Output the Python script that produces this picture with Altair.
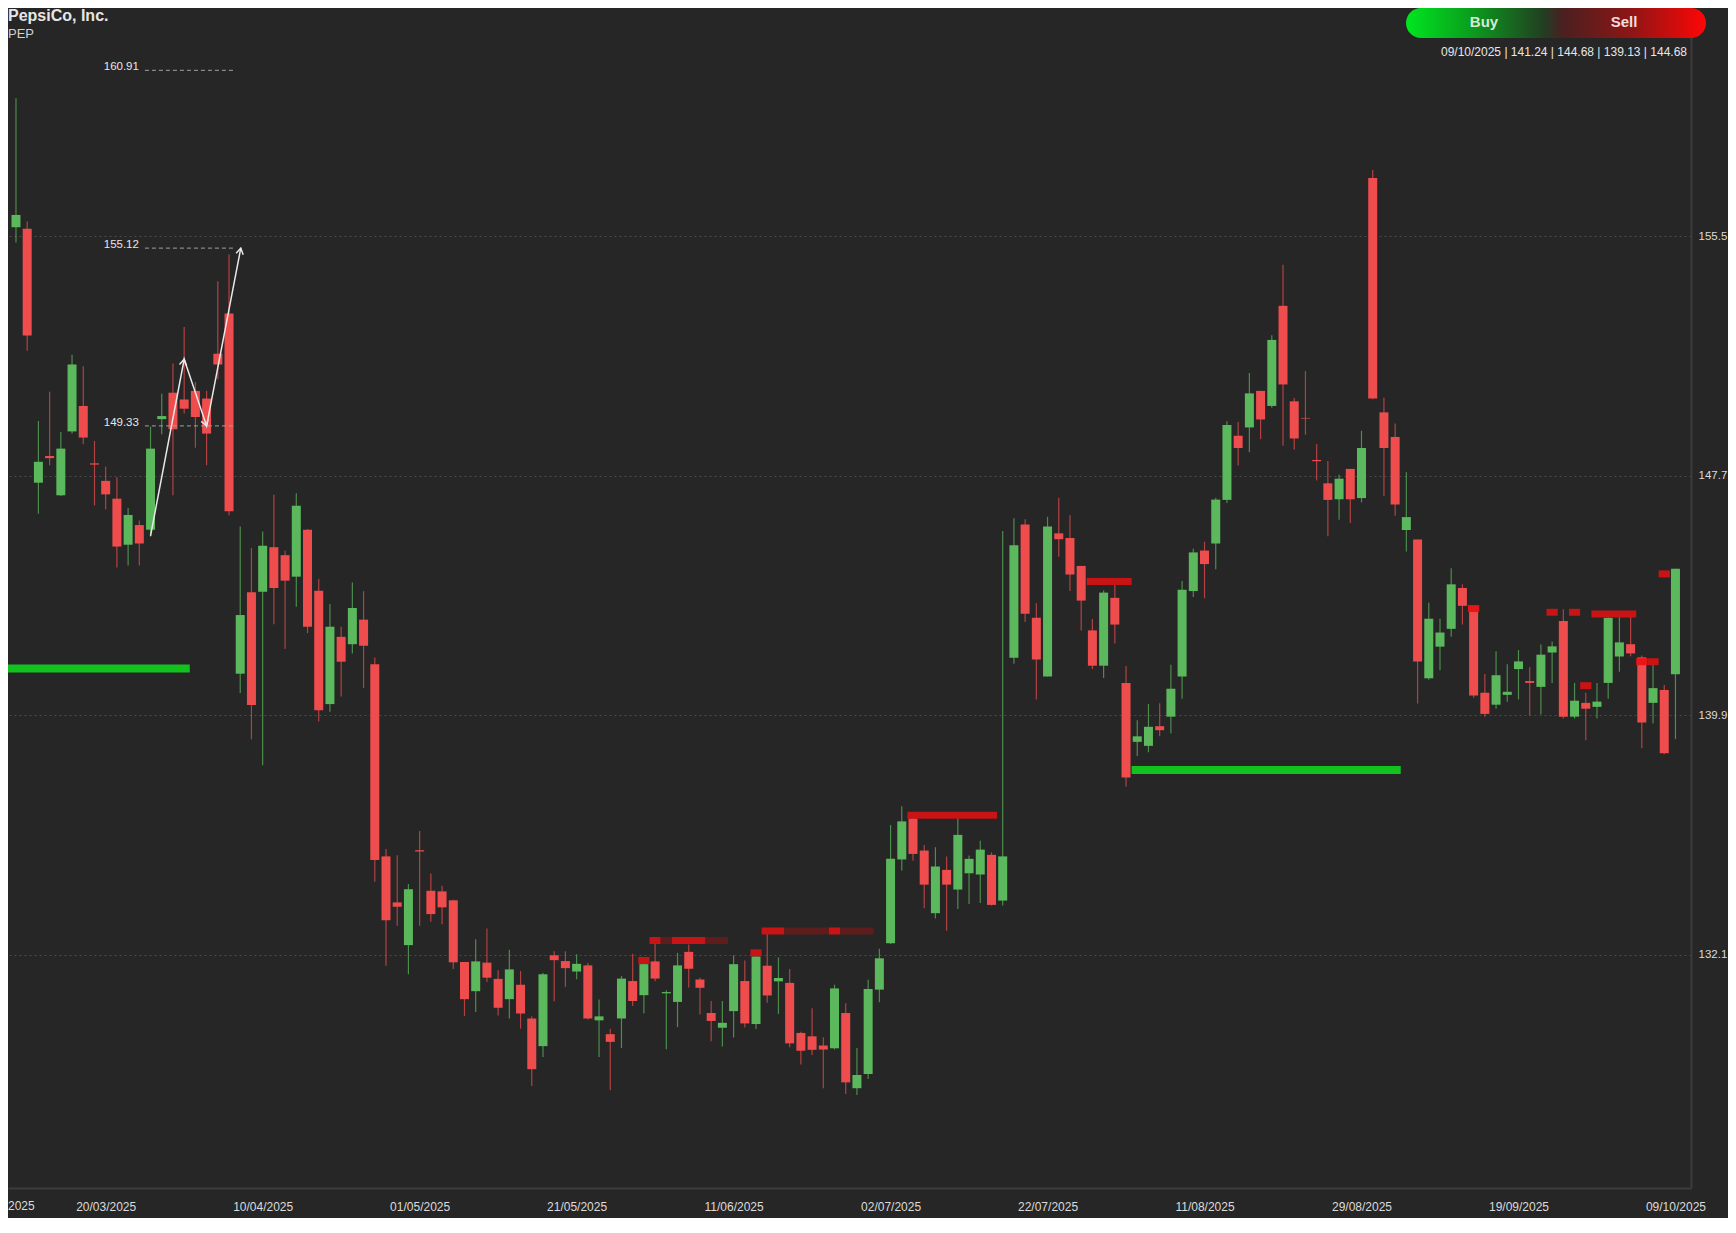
import json
import math
import pandas as pd
import altair as alt

# ---------------- data ----------------
opens = [155.80, 155.75, 147.48, 148.35, 147.07, 149.15, 149.98, 148.11, 147.54, 146.96,
         145.46, 146.10, 145.95, 149.55, 150.41, 150.19, 150.47, 150.22, 151.68, 152.99,
         141.26, 143.91, 143.93, 145.38, 145.12, 144.42, 145.95, 143.96, 140.27, 142.46,
         142.22, 143.02, 141.57, 135.31, 133.81, 132.42, 135.51, 134.19, 134.17, 133.88,
         131.87, 130.92, 131.85, 131.32, 130.66, 131.13, 130.03, 129.13, 132.09, 131.90,
         131.56, 131.76, 129.97, 129.52, 130.03, 131.25, 130.79, 131.89, 130.85, 130.57,
         132.20, 131.30, 130.21, 129.73, 130.27, 131.25, 129.85, 131.75, 131.24, 131.19,
         129.56, 129.45, 129.15, 129.06, 130.21, 127.76, 128.22, 130.97, 132.48, 135.21,
         136.55, 135.50, 133.46, 134.87, 134.23, 134.76, 134.72, 135.36, 133.87, 141.78,
         146.12, 143.08, 141.17, 145.83, 145.68, 144.77, 142.67, 141.52, 143.73, 140.96,
         139.04, 138.91, 139.55, 139.86, 141.17, 143.95, 145.27, 145.50, 146.92, 149.01,
         149.28, 150.47, 149.98, 153.24, 150.13, 149.59, 148.22, 147.46, 146.94, 147.93,
         146.98, 157.40, 149.77, 148.97, 145.94, 145.63, 141.11, 142.14, 142.72, 144.05,
         143.34, 140.64, 140.25, 140.57, 141.41, 141.02, 140.83, 141.95, 142.98, 139.86,
         140.31, 140.18, 140.96, 141.82, 142.22, 141.79, 140.31, 140.73, 141.24]
highs = [160.00, 155.99, 149.49, 150.44, 149.13, 151.65, 151.27, 148.84, 148.01, 147.66,
         146.66, 146.25, 149.31, 150.38, 151.36, 152.55, 150.76, 150.47, 154.04, 154.91,
         146.05, 145.35, 145.89, 147.09, 145.26, 147.14, 145.97, 144.34, 143.53, 142.79,
         144.23, 143.95, 141.79, 135.55, 135.35, 134.41, 136.14, 134.75, 134.35, 133.90,
         131.87, 132.61, 132.96, 131.60, 132.27, 131.58, 130.10, 131.51, 132.22, 132.22,
         132.12, 131.84, 130.65, 129.70, 131.42, 132.14, 131.98, 132.47, 130.95, 132.17,
         132.44, 131.36, 130.60, 130.60, 132.09, 131.92, 132.19, 132.84, 132.02, 131.64,
         129.60, 130.36, 129.42, 131.13, 130.53, 129.07, 131.29, 132.30, 136.33, 136.94,
         136.65, 135.68, 135.61, 135.31, 136.55, 135.34, 135.82, 135.44, 145.91, 146.32,
         146.29, 143.55, 146.37, 146.99, 146.43, 144.77, 143.04, 143.97, 144.34, 141.51,
         139.74, 140.27, 140.30, 141.55, 144.28, 145.33, 145.56, 146.99, 149.48, 149.46,
         151.05, 150.47, 152.28, 154.58, 150.24, 151.12, 148.74, 148.19, 147.74, 147.93,
         149.17, 157.66, 150.25, 149.41, 147.82, 145.63, 143.57, 143.05, 144.69, 144.17,
         143.40, 141.25, 141.99, 141.57, 142.03, 141.47, 142.21, 142.31, 143.36, 140.96,
         140.64, 140.96, 143.27, 143.11, 143.21, 141.85, 141.60, 140.89, 144.68]
lows = [155.30, 151.78, 146.47, 148.05, 147.05, 149.08, 148.73, 146.74, 146.61, 144.72,
        144.78, 144.78, 145.72, 149.06, 147.07, 149.73, 148.62, 148.05, 150.85, 146.42,
        140.63, 139.12, 138.28, 142.87, 142.06, 143.44, 142.58, 139.70, 140.02, 140.52,
        141.92, 140.79, 134.48, 131.75, 133.05, 131.47, 133.05, 133.18, 133.10, 131.64,
        130.11, 130.24, 131.22, 130.13, 130.03, 129.70, 127.83, 128.78, 130.59, 131.06,
        131.31, 130.00, 128.78, 127.69, 129.07, 130.44, 130.19, 131.24, 129.03, 129.75,
        131.04, 130.16, 129.29, 129.12, 129.41, 129.74, 129.69, 130.54, 130.18, 129.09,
        128.53, 128.84, 127.76, 129.02, 127.57, 127.54, 128.06, 130.56, 132.46, 134.85,
        135.17, 133.62, 133.29, 132.89, 133.60, 133.76, 133.79, 133.71, 133.71, 141.58,
        142.94, 140.42, 141.17, 145.07, 143.95, 142.67, 141.41, 141.12, 142.24, 137.59,
        138.58, 138.70, 139.22, 139.31, 140.44, 143.76, 143.72, 144.66, 146.82, 148.04,
        148.47, 148.90, 149.92, 148.68, 148.56, 149.04, 147.55, 145.74, 146.27, 146.17,
        146.84, 150.20, 147.04, 146.40, 145.24, 140.29, 141.06, 141.37, 142.46, 142.86,
        140.48, 139.86, 140.12, 140.35, 140.42, 139.90, 139.93, 140.96, 139.80, 139.80,
        139.09, 139.80, 140.44, 141.32, 141.83, 138.83, 139.64, 138.64, 139.13]
closes = [156.20, 152.27, 148.16, 148.28, 148.59, 151.33, 148.95, 148.07, 147.10, 145.40,
          146.43, 145.50, 148.59, 149.65, 149.22, 149.89, 149.62, 149.08, 151.33, 146.55,
          143.17, 140.24, 145.43, 144.05, 144.29, 146.73, 142.79, 140.07, 142.79, 141.65,
          143.40, 142.17, 135.19, 133.23, 133.67, 134.24, 135.47, 133.43, 133.65, 131.86,
          130.66, 131.89, 131.36, 130.38, 131.63, 130.19, 128.38, 131.47, 131.93, 131.67,
          131.81, 130.03, 130.10, 129.27, 131.33, 130.60, 131.80, 131.33, 130.89, 131.76,
          131.65, 131.03, 129.95, 129.89, 131.80, 129.87, 132.05, 130.78, 131.35, 129.22,
          128.98, 129.01, 129.02, 131.01, 127.95, 128.19, 130.99, 131.99, 135.23, 136.45,
          135.39, 134.39, 134.98, 134.39, 136.01, 135.23, 135.53, 133.73, 135.31, 145.44,
          143.21, 141.72, 146.05, 145.64, 144.49, 143.64, 141.52, 143.90, 142.86, 137.88,
          139.22, 139.53, 139.42, 140.77, 143.99, 145.21, 144.83, 146.93, 149.36, 148.61,
          150.39, 149.54, 152.13, 150.68, 148.92, 149.57, 148.18, 146.92, 147.61, 146.94,
          148.61, 150.22, 148.61, 146.77, 146.36, 141.66, 143.05, 142.60, 144.17, 143.47,
          140.55, 139.95, 141.21, 140.67, 141.66, 140.96, 141.88, 142.15, 139.86, 140.38,
          140.12, 140.35, 143.08, 142.28, 141.92, 139.67, 140.79, 138.67, 144.68]

tick_idx = [8, 22, 36, 50, 64, 78, 92, 106, 120, 134, 148]
tick_labels = ["20/03/2025", "10/04/2025", "01/05/2025", "21/05/2025", "11/06/2025",
               "02/07/2025", "22/07/2025", "11/08/2025", "29/08/2025", "19/09/2025",
               "09/10/2025"]
price_ticks = [132.1, 139.9, 147.7, 155.5]

# buy / sell levels (bar index start, end, price, kind)
level_start = [-1.0, 99.5, 79.5, 95.5, 55.5, 56.5, 57.5, 58.5, 61.5, 65.5, 66.5, 68.5,
               72.5, 73.5, 129.5, 136.5, 138.5, 140.5, 139.5, 144.5, 145.5, 146.5]
level_end = [15.5, 123.5, 87.5, 99.5, 56.5, 57.5, 58.5, 61.5, 63.5, 66.5, 68.5, 72.5,
             73.5, 76.5, 130.5, 137.5, 139.5, 144.5, 140.5, 145.5, 146.5, 147.5]
level_price = [141.43, 138.12, 136.65, 144.26, 131.92, 132.57, 132.57, 132.57, 132.57,
               132.17, 132.88, 132.88, 132.88, 132.88, 143.38, 143.26, 143.26, 143.20,
               140.87, 141.65, 141.65, 144.51]
level_kind = ["buy", "buy", "sell", "sell", "sell", "sell", "dim", "sell", "dim",
              "sell", "sell", "dim", "sell", "dim", "hot", "sell", "sell", "sell",
              "sell", "hot", "sell", "sell"]

# harmonic pattern drawing
pattern_idx = [12, 15, 17, 20.05]
pattern_price = [145.75, 151.5, 149.33, 155.12]

fib_price = [160.91, 155.12, 149.33]
fib_labels = ["160.91", "155.12", "149.33"]
fib_from = [11.5, 11.5, 11.5]
fib_to = [19.4, 19.4, 19.4]

header_text = "09/10/2025 | 141.24 | 144.68 | 139.13 | 144.68"

# ---------------- layout ----------------
W, H = 1683, 1180
XDOM = [-0.266, 148.94]
YDOM = [124.51, 162.94]
FONT = "Liberation Sans"
GREEN = "#5cb85c"
RED = "#ef4d4d"
LABEL_PAD = 13

px_bar = W / (XDOM[1] - XDOM[0])
px_price = H / (YDOM[1] - YDOM[0])

xs = alt.Scale(domain=XDOM, nice=False, zero=False)
ys = alt.Scale(domain=YDOM, nice=False, zero=False)

candles = pd.DataFrame({"i": list(range(len(opens))), "open": opens, "high": highs,
                        "low": lows, "close": closes})
candles["dir"] = ["up" if c >= o else "down" for o, c in zip(opens, closes)]
dir_color = alt.Color("dir:N", scale=alt.Scale(domain=["up", "down"], range=[GREEN, RED]),
                      legend=None)

label_expr = f"{json.dumps(tick_labels)}[indexof({json.dumps(tick_idx)}, datum.value)]"

x_axis = alt.Axis(values=tick_idx, labelExpr=label_expr, grid=False, ticks=False, tickSize=0,
                  labelPadding=LABEL_PAD, labelFontSize=12, labelColor="#dcdcdc", labelFont=FONT,
                  labelFlush=False, labelOverlap=False, domainColor="#3c3c3c", domainWidth=2)
y_axis = alt.Axis(orient="right", values=price_ticks, format=".1f", ticks=False, tickSize=0,
                  labelPadding=7, labelFontSize=11.5, labelColor="#dcdcdc", labelFont=FONT,
                  grid=True, gridColor="#4a4a4a", gridDash=[2, 3], gridWidth=1,
                  domainColor="#3c3c3c", domainWidth=2)


def X(field):
    return alt.X(field, scale=xs, axis=x_axis, title=None)


def Y(field):
    return alt.Y(field, scale=ys, axis=y_axis, title=None)


wicks = alt.Chart(candles).mark_rule(strokeWidth=1.2, opacity=0.7).encode(
    x=X("i:Q"), y=Y("low:Q"), y2="high:Q", color=dir_color,
)
bodies = alt.Chart(candles).mark_bar(size=9).encode(
    x=X("i:Q"), y=Y("open:Q"), y2="close:Q", color=dir_color,
)

kind_colors = {"buy": "#12c21f", "sell": "#c81414", "dim": "#5f1c1c", "hot": "#e81616"}
levels = pd.DataFrame({"s": level_start, "e": level_end, "p": level_price,
                       "c": [kind_colors[k] for k in level_kind],
                       "w": [8 if k == "buy" else 7 for k in level_kind]})
level_layer = alt.Chart(levels).mark_rule(strokeCap="butt", clip=True).encode(
    x=X("s:Q"), x2="e:Q", y=Y("p:Q"),
    color=alt.Color("c:N", scale=None),
    strokeWidth=alt.StrokeWidth("w:Q", scale=None),
)

fib = pd.DataFrame({"s": fib_from, "e": fib_to, "p": fib_price, "t": fib_labels})
fib_rules = alt.Chart(fib).mark_rule(strokeDash=[4, 3], color="#a0a0a0", strokeWidth=1).encode(
    x=X("s:Q"), x2="e:Q", y=Y("p:Q"),
)
fib_text = alt.Chart(fib).mark_text(align="right", baseline="middle", dx=-6, dy=-3,
                                    fontSize=11.5, font=FONT, color="#e6e6e6").encode(
    x=X("s:Q"), y=Y("p:Q"), text="t:N",
)

pat = pd.DataFrame({"k": list(range(len(pattern_idx))), "x": pattern_idx, "p": pattern_price})
pattern_line = alt.Chart(pat).mark_line(color="#e8e8e8", strokeWidth=1.5).encode(
    x=X("x:Q"), y=Y("p:Q"), order="k:Q",
)
angs = []
for k in range(1, len(pattern_idx)):
    dx = (pattern_idx[k] - pattern_idx[k - 1]) * px_bar
    dy = (pattern_price[k] - pattern_price[k - 1]) * px_price
    angs.append(math.degrees(math.atan2(dx, dy)) % 360)
heads = pd.DataFrame({"x": pattern_idx[1:], "p": pattern_price[1:], "a": angs})
head_layer = alt.Chart(heads).mark_point(shape="M-0.6,1L0,0L0.6,1", filled=False, size=144,
                                         strokeWidth=1.5, color="#e8e8e8", opacity=1).encode(
    x=X("x:Q"), y=Y("p:Q"), angle=alt.Angle("a:Q", scale=None),
)

one = pd.DataFrame({"t": ["x"]})
title1 = alt.Chart(one).mark_text(text="PepsiCo, Inc.", align="left", baseline="alphabetic",
                                  fontSize=16, fontWeight="bold", font=FONT,
                                  color="#e6e6e6").encode(x=alt.value(0), y=alt.value(12.5))
title2 = alt.Chart(one).mark_text(text="PEP", align="left", baseline="alphabetic",
                                  fontSize=13, font=FONT,
                                  color="#d0d0d0").encode(x=alt.value(0), y=alt.value(29.5))
first_lab = alt.Chart(one).mark_text(text="2025", align="left", baseline="top",
                                     fontSize=12, font=FONT, color="#dcdcdc").encode(
    x=alt.value(0), y=alt.value(H + LABEL_PAD))

gradient = {
    "gradient": "linear", "x1": 0, "x2": 1, "y1": 0, "y2": 0,
    "stops": [
        {"offset": 0.0, "color": "#00e620"},
        {"offset": 0.22, "color": "#0b9c1d"},
        {"offset": 0.46, "color": "#223e22"},
        {"offset": 0.52, "color": "#4a2020"},
        {"offset": 0.75, "color": "#8e1515"},
        {"offset": 1.0, "color": "#ff0606"},
    ],
}
pill = alt.Chart(one).mark_rect(fill=gradient, cornerRadius=15).encode(
    x=alt.value(1398), x2=alt.value(1698), y=alt.value(0), y2=alt.value(30))
buy_t = alt.Chart(one).mark_text(text="Buy", align="center", baseline="middle", fontSize=15,
                                 fontWeight="bold", font=FONT, color="#d6ecd6").encode(
    x=alt.value(1476), y=alt.value(13.5))
sell_t = alt.Chart(one).mark_text(text="Sell", align="center", baseline="middle", fontSize=15,
                                  fontWeight="bold", font=FONT, color="#f2dcdc").encode(
    x=alt.value(1616), y=alt.value(13.5))
header = alt.Chart(one).mark_text(text=header_text, align="right", baseline="alphabetic",
                                  fontSize=12, font=FONT, color="#e6e6e6").encode(
    x=alt.value(1679), y=alt.value(48))

chart = alt.layer(
    wicks, bodies, level_layer, fib_rules, fib_text, pattern_line, head_layer,
    title1, title2, first_lab, pill, buy_t, sell_t, header,
).properties(
    width=W, height=H,
    autosize=alt.AutoSizeParams(type="none"),
    padding={"left": 0, "top": 0, "right": 37, "bottom": 30},
).configure(background="#262626").configure_view(strokeWidth=0)

chart.save("out.html", embed_options={"renderer": "svg", "actions": False})
